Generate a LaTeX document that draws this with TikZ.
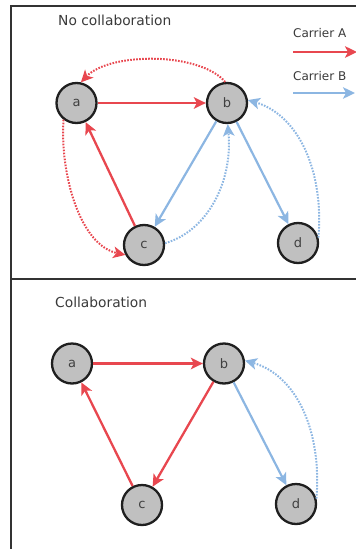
\documentclass[tikz,border=0pt]{standalone}
\usepackage{fontspec}
\setmainfont{DejaVu Sans}
\usetikzlibrary{arrows.meta}
\definecolor{cred}{HTML}{E8474F}
\definecolor{cblue}{HTML}{8CB6E2}
\definecolor{nfill}{HTML}{C0C0C0}
\definecolor{frame}{HTML}{333333}
\definecolor{txt}{HTML}{3A3A3A}
\begin{document}
\begin{tikzpicture}[x=1pt,y=1pt,
  vtx/.style={circle, draw=black!88, line width=2.3pt, fill=nfill, minimum size=40pt, inner sep=0pt, font=\fontsize{13}{13}\selectfont, text=black!75},
  tip/.style={-{Stealth[length=12pt,width=11.5pt,inset=3pt]}},
  ared/.style={draw=cred, line width=2.3pt, tip},
  ablue/.style={draw=cblue, line width=2.2pt, tip},
  dred/.style={ared, line width=2pt, dash pattern=on 1.6pt off 1.4pt},
  dblue/.style={ablue, line width=2pt, dash pattern=on 1.6pt off 1.4pt},
  title/.style={anchor=west, inner sep=0pt, font=\fontsize{13.8}{14}\selectfont, text=txt},
  legtxt/.style={anchor=west, inner sep=0pt, font=\fontsize{12}{12}\selectfont, text=txt}
]
\useasboundingbox (0,0) rectangle (356,-549);
% frames
\draw[frame, line width=2pt] (358,-6) -- (11,-6) -- (11,-551);
\draw[frame, line width=2pt] (11,-278.5) -- (358,-278.5);

% titles
\node[title] (t1) at (58,-20.5) {No collaboration};
\node[title] (t2) at (55,-302) {Collaboration};

% legend
\node[legtxt] (la) at (293,-33) {Carrier A};
\node[legtxt] (lb) at (293,-76) {Carrier B};
\coordinate (la1) at (293,-52);
\coordinate (la2) at (357,-52);
\coordinate (lb1) at (293,-93);
\coordinate (lb2) at (355,-93);
\draw[ared] (la1) -- (la2);
\draw[ablue] (lb1) -- (lb2);

% top panel nodes
\node[vtx] (a) at (76.5,-103) {a};
\node[vtx] (b) at (227,-103) {b};
\node[vtx] (c) at (144,-245) {c};
\node[vtx] (d) at (298,-243) {d};

\draw[ared] (a) -- (b);
\draw[ared] (c) -- (a);
\draw[dred] (a.232) .. controls (60,-175) and (80,-245) .. (c.208);
\draw[dred] (b.95) .. controls (200,-52) and (110,-52) .. (a.78);
\draw[ablue] (b) -- (c);
\draw[dblue] (c.5) .. controls (205,-232) and (233,-185) .. (b.272);
\draw[ablue] (b) -- (d);
\draw[dblue] (d.15) .. controls (324,-170) and (298,-115) .. (b.8);

% bottom panel nodes
\node[vtx] (a2) at (72,-363.5) {a};
\node[vtx] (b2) at (224,-363.5) {b};
\node[vtx] (c2) at (142,-505) {c};
\node[vtx] (d2) at (296,-504) {d};

\draw[ared] (a2) -- (b2);
\draw[ared] (c2) -- (a2);
\draw[ared] (b2) -- (c2);
\draw[ablue] (b2) -- (d2);
\draw[dblue] (d2.15) .. controls (322,-430) and (296,-375) .. (b2.8);
\end{tikzpicture}
\end{document}
